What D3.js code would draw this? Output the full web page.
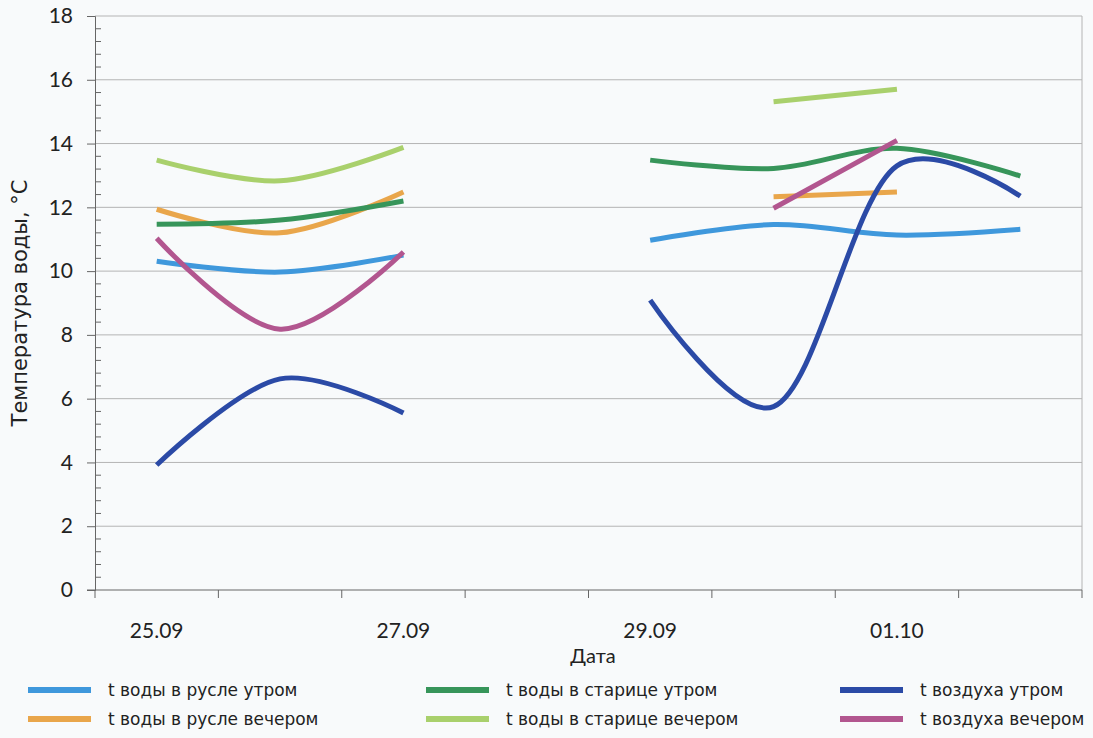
<!DOCTYPE html>
<head>
<meta charset="utf-8">
<title>Температура воды</title>
<script src="https://d3js.org/d3.v7.min.js"></script>
<style>
  body { margin: 0; background: #f8fafb; }
  text { font-family: Lato, "Open Sans", sans-serif; fill: #222; }
  .wide { font-family: "DejaVu Sans", sans-serif; }
</style>
</head>
<body>
<div id="container"></div>
<script>

// dates (one band each); only every other one is labelled
const dates = ["25.09", "26.09", "27.09", "28.09", "29.09", "30.09", "01.10", "02.10"];
const dateLabels = ["25.09", "27.09", "29.09", "01.10"];
const yTicks = [0, 2, 4, 6, 8, 10, 12, 14, 16, 18];

// null = no measurement that day
const ruslo_morning   = [10.31, 9.97, 10.5, null, 10.97, 11.46, 11.13, 11.31];
const ruslo_evening   = [11.94, 11.2, 12.48, null, null, 12.33, 12.48, null];
const starica_morning = [11.47, 11.6, 12.2, null, 13.48, 13.22, 13.85, 12.98];
const starica_evening = [13.48, 12.83, 13.88, null, null, 15.31, 15.7, null];
const air_morning     = [3.92, 6.62, 5.55, null, 9.09, 5.75, 13.3, 12.35];
const air_evening     = [11.03, 8.18, 10.6, null, null, 11.97, 14.1, null];

const series = [
  {name: "t воды в русле утром",     values: ruslo_morning,   color: "#3f98dc"},
  {name: "t воды в русле вечером",   values: ruslo_evening,   color: "#e9a64b"},
  {name: "t воды в старице утром",   values: starica_morning, color: "#37955a"},
  {name: "t воды в старице вечером", values: starica_evening, color: "#a9d06c"},
  {name: "t воздуха утром",          values: air_morning,     color: "#2b4aa6"},
  {name: "t воздуха вечером",        values: air_evening,     color: "#b2568f"}
];

const width = 1093, height = 738;
const margin = {top: 16, right: 11, bottom: 148, left: 95};

const svg = d3.select("#container").append("svg")
    .attr("width", width).attr("height", height);

const x = d3.scaleBand().domain(dates)
    .range([margin.left, width - margin.right]).padding(0);
const y = d3.scaleLinear().domain([0, 18])
    .range([height - margin.bottom, margin.top]);
const cx = d => x(d) + x.bandwidth() / 2;

// grid
svg.append("g").attr("stroke", "#b4b4b4").attr("stroke-width", 1)
  .selectAll("line").data(yTicks.slice(1)).join("line")
    .attr("x1", margin.left).attr("x2", width - margin.right)
    .attr("y1", d => y(d)).attr("y2", d => y(d));

// right border
svg.append("line").attr("stroke", "#b4b4b4")
  .attr("x1", width - margin.right).attr("x2", width - margin.right)
  .attr("y1", y(18)).attr("y2", y(0));

// y axis: major ticks outward, minor ticks inward
const yAxis = svg.append("g").attr("transform", `translate(${margin.left},0)`);
yAxis.call(d3.axisLeft(y).tickValues(yTicks).tickSize(8).tickPadding(14))
  .call(g => g.select(".domain").attr("stroke", "#666"))
  .call(g => g.selectAll(".tick line").attr("stroke", "#666"))
  .call(g => g.selectAll(".tick text").attr("font-size", 21).style("fill", "#222"));
yAxis.append("g").attr("stroke", "#666")
  .selectAll("line").data(d3.range(0, 18.01, 0.4).filter(v => Math.abs(v / 2 - Math.round(v / 2)) > 0.01))
  .join("line")
    .attr("x1", 0).attr("x2", 6)
    .attr("y1", d => y(d)).attr("y2", d => y(d));

// x axis
const xAxis = svg.append("g").attr("transform", `translate(0,${y(0)})`);
xAxis.append("line").attr("stroke", "#666")
  .attr("x1", margin.left - 8).attr("x2", width - margin.right);
xAxis.selectAll("line.tk").data(dates.concat(["end"])).join("line")
  .attr("class", "tk").attr("stroke", "#666")
  .attr("x1", (d, i) => margin.left + i * x.bandwidth())
  .attr("x2", (d, i) => margin.left + i * x.bandwidth())
  .attr("y1", 0).attr("y2", 8);
xAxis.selectAll("text").data(dateLabels).join("text")
  .attr("x", d => cx(d)).attr("y", 48)
  .attr("text-anchor", "middle").attr("font-size", 21).text(d => d);

// lines
const line = d3.line()
  .defined(d => d.v != null)
  .x(d => cx(d.date))
  .y(d => y(d.v))
  .curve(d3.curveCatmullRom.alpha(0.2));

svg.append("g").attr("fill", "none").attr("stroke-width", 5)
  .attr("stroke-linejoin", "round").attr("stroke-linecap", "butt")
  .selectAll("path").data(series).join("path")
    .attr("stroke", s => s.color)
    .attr("d", s => line(s.values.map((v, i) => ({date: dates[i], v}))));

// axis titles
svg.append("text").attr("class", "wide")
  .attr("transform", `translate(27,${y(9)}) rotate(-90)`)
  .attr("text-anchor", "middle").attr("font-size", 21)
  .text("Температура воды, °С");
svg.append("text")
  .attr("x", 593).attr("y", 663).attr("text-anchor", "middle")
  .attr("font-size", 20).text("Дата");

// legend, three columns of two
const legendCols = [28, 426, 840];
const legendRows = [690, 719];
const legend = svg.append("g").selectAll("g").data(series).join("g")
  .attr("transform", (s, i) => `translate(${legendCols[Math.floor(i / 2)]},${legendRows[i % 2]})`);
legend.append("line").attr("x1", 0).attr("x2", 63)
  .attr("stroke", s => s.color).attr("stroke-width", 6);
legend.append("text").attr("class", "wide").attr("x", 80).attr("dy", "0.35em")
  .attr("font-size", 17).text(s => s.name);

</script>
</body>
